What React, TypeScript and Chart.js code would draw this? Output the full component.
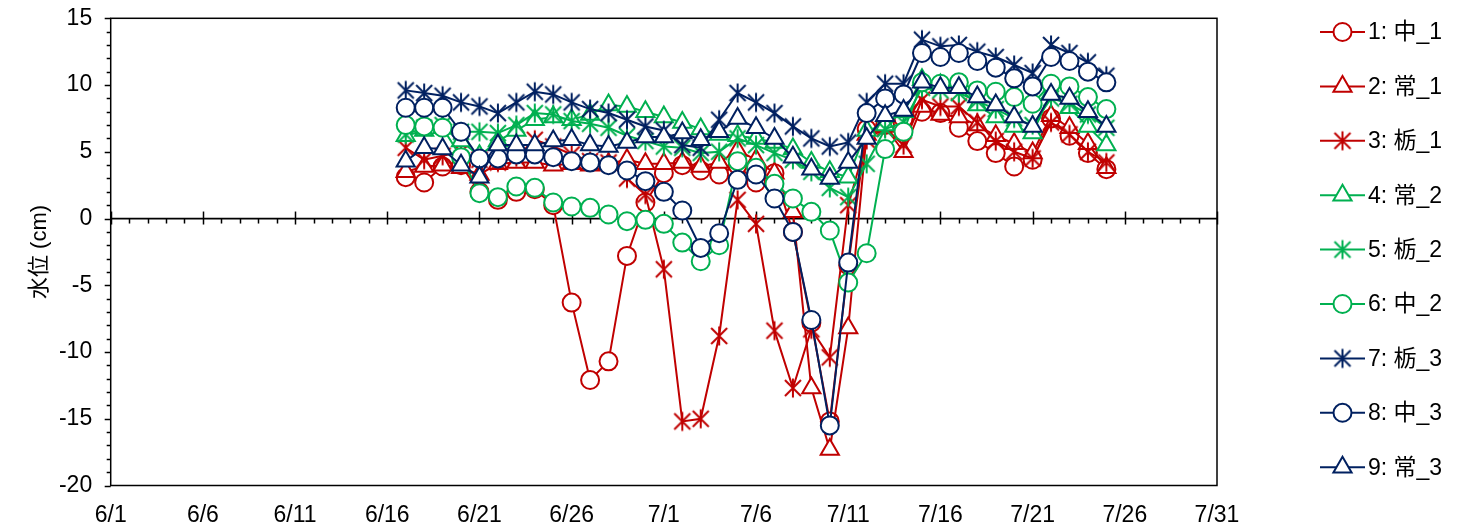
import React, { useEffect, useRef } from "react";
import { Chart, registerables } from "chart.js";
import { drawPoint } from "chart.js/helpers";

Chart.register(...registerables);

// ---------- data ----------
const dates = [
  "6/17", "6/18", "6/19", "6/20", "6/21", "6/22", "6/23", "6/24", "6/25", "6/26",
  "6/27", "6/28", "6/29", "6/30", "7/1", "7/2", "7/3", "7/4", "7/5", "7/6",
  "7/7", "7/8", "7/9", "7/10", "7/11", "7/12", "7/13", "7/14", "7/15", "7/16",
  "7/17", "7/18", "7/19", "7/20", "7/21", "7/22", "7/23", "7/24", "7/25",
];

const xTickLabels = ["6/1", "6/6", "6/11", "6/16", "6/21", "6/26", "7/1", "7/6", "7/11", "7/16", "7/21", "7/26", "7/31"];
const yMin = -20;
const yMax = 15;
const yStep = 5;

const seriesNames = ["1: 中_1", "2: 常_1", "3: 栃_1", "4: 常_2", "5: 栃_2", "6: 中_2", "7: 栃_3", "8: 中_3", "9: 常_3"];

const naka1 = [3.1, 2.7, 3.9, 4.0, 2.0, 1.4, 2.0, 2.2, 1.0, -6.3,
  -12.1, -10.7, -2.8, 1.2, 3.4, 4.0, 3.6, 3.3, 4.0, 2.7,
  3.4, -1.0, -7.8, -15.2, -3.5, 6.7, 7.0, 7.5, 8.0, 7.9,
  6.8, 5.8, 4.9, 3.9, 4.4, 7.5, 6.2, 4.9, 3.7];
const jo1 = [3.5, 3.9, 4.0, 3.8, 3.3, 4.1, 4.2, 4.2, 4.0, 4.1,
  4.0, 4.1, 4.4, 4.1, 4.1, 4.2, 3.9, 4.2, 5.1, 4.4,
  3.4, 0.5, -12.7, -17.3, -8.2, 6.3, 6.9, 5.0, 8.4, 7.8,
  7.6, 7.0, 6.2, 5.6, 4.9, 7.7, 6.8, 5.6, 3.8];
const tochi1 = [5.3, 4.4, 4.7, 5.0, 4.4, 4.2, 4.6, 5.9, 5.4, 4.8,
  4.3, 4.2, 3.0, 1.8, -3.8, -15.2, -15.0, -8.8, 1.4, -0.4,
  -8.4, -12.7, -8.3, -10.4, 1.0, 5.9, 6.8, 5.5, 8.9, 8.4,
  8.4, 7.2, 5.8, 5.0, 4.5, 7.2, 6.3, 5.0, 4.2];
const jo2 = [6.2, 6.6, 6.8, 5.8, 4.7, 5.8, 6.6, 7.4, 7.6, 7.4,
  7.8, 8.5, 8.4, 8.0, 7.6, 7.2, 6.7, 6.3, 6.2, 6.0,
  5.7, 5.2, 4.2, 3.5, 3.1, 6.6, 7.0, 8.0, 10.4, 10.0,
  9.8, 8.5, 7.6, 6.9, 6.4, 9.4, 8.3, 6.9, 5.5];
const tochi2 = [6.3, 6.8, 7.0, 6.5, 6.5, 6.4, 7.0, 7.9, 7.8, 7.3,
  7.1, 6.8, 6.2, 5.8, 5.4, 5.3, 4.9, 5.0, 6.0, 5.5,
  4.9, 4.4, 3.5, 2.3, 1.6, 4.1, 6.7, 7.2, 9.8, 9.6,
  9.4, 8.8, 8.2, 7.5, 7.0, 9.0, 8.6, 7.8, 6.8];
const naka2 = [7.0, 6.9, 6.8, 4.6, 1.9, 1.6, 2.4, 2.3, 1.2, 0.9,
  0.8, 0.3, -0.2, -0.1, -0.4, -1.8, -3.2, -2.0, 4.3, 3.8,
  2.6, 1.5, 0.5, -0.9, -4.8, -2.6, 5.2, 6.5, 10.2, 10.1,
  10.2, 9.6, 9.5, 9.1, 8.6, 10.1, 9.9, 9.1, 8.2];
const tochi3 = [9.6, 9.4, 9.2, 8.7, 8.4, 7.9, 8.7, 9.5, 9.3, 8.7,
  8.2, 7.9, 7.4, 6.9, 6.6, 5.5, 5.3, 7.4, 9.4, 8.7,
  7.9, 6.9, 6.0, 5.4, 5.7, 8.7, 10.1, 10.1, 13.4, 12.9,
  13.0, 12.5, 12.1, 11.5, 10.9, 13.0, 12.4, 11.7, 10.7];
const naka3 = [8.3, 8.3, 8.3, 6.5, 4.5, 4.5, 4.8, 4.8, 4.6, 4.3,
  4.2, 4.0, 3.6, 2.8, 2.0, 0.6, -2.2, -1.1, 2.9, 3.3,
  1.5, -1.0, -7.6, -15.5, -3.3, 7.9, 9.0, 9.3, 12.4, 12.1,
  12.4, 11.8, 11.3, 10.5, 9.9, 12.1, 11.8, 11.0, 10.2];
const jo3 = [4.3, 5.3, 5.2, 4.0, 3.1, 5.5, 5.5, 5.5, 5.8, 5.9,
  5.5, 5.4, 5.7, 6.1, 6.1, 6.4, 5.9, 6.5, 7.5, 6.8,
  6.0, 4.6, 3.7, 3.0, 4.2, 6.0, 7.7, 8.1, 10.2, 9.8,
  9.8, 9.1, 8.5, 7.6, 6.9, 9.3, 9.0, 8.0, 6.9];

const seriesValues = [naka1, jo1, tochi1, jo2, tochi2, naka2, tochi3, naka3, jo3];

// ---------- styles ----------
const RED = "#C00000";
const GREEN = "#00B050";
const NAVY = "#002060";
const seriesColors = [RED, RED, RED, GREEN, GREEN, GREEN, NAVY, NAVY, NAVY];
const seriesMarkers = ["circle", "triangle", "asterisk", "triangle", "asterisk", "circle", "asterisk", "circle", "triangle"];
const FONT = "'Liberation Sans', Arial, 'Noto Sans CJK JP', sans-serif";
const TICK_SIZE = 23;

function dayIndex(label: string): number {
  const [m, d] = label.split("/").map(Number);
  return m === 6 ? d - 1 : 30 + d - 1;
}

function makeAsterisk(color: string): HTMLCanvasElement {
  const c = document.createElement("canvas");
  c.width = 24;
  c.height = 24;
  const g = c.getContext("2d")!;
  g.strokeStyle = color;
  g.lineWidth = 2;
  const cx = 12, cy = 12, r = 9.5, d = 8;
  g.beginPath();
  g.moveTo(cx, cy - r);
  g.lineTo(cx, cy + r);
  g.moveTo(cx - d, cy - d);
  g.lineTo(cx + d, cy + d);
  g.moveTo(cx - d, cy + d);
  g.lineTo(cx + d, cy - d);
  g.stroke();
  return c;
}

function markerOpts(kind: string, color: string) {
  if (kind === "asterisk") return { pointStyle: makeAsterisk(color), radius: 10, borderWidth: 0 };
  if (kind === "triangle") return { pointStyle: "triangle", radius: 10.5, borderWidth: 2 };
  return { pointStyle: "circle", radius: 9, borderWidth: 2 };
}

const framePlugin = {
  id: "frameAxes",
  beforeDatasetsDraw(chart: any) {
    const { ctx, chartArea: a, scales } = chart;
    const xs = scales.x, ys = scales.y;
    ctx.save();
    ctx.strokeStyle = "#000";
    ctx.lineWidth = 1.5;
    ctx.strokeRect(a.left, a.top, a.right - a.left, a.bottom - a.top);
    // y ticks
    for (let v = yMin; v <= yMax; v++) {
      const y = Math.round(ys.getPixelForValue(v)) + 0.5;
      const len = v % yStep === 0 ? 6 : 4;
      ctx.beginPath();
      ctx.moveTo(a.left - len, y);
      ctx.lineTo(a.left, y);
      ctx.stroke();
    }
    // x axis at 0
    const y0 = ys.getPixelForValue(0);
    ctx.lineWidth = 1.8;
    ctx.beginPath();
    ctx.moveTo(a.left, y0);
    ctx.lineTo(a.right, y0);
    ctx.stroke();
    ctx.lineWidth = 1.5;
    for (let d = 0; d <= 60; d++) {
      const x = Math.round(xs.getPixelForValue(d)) + 0.5;
      ctx.beginPath();
      if (d % 5 === 0) {
        ctx.moveTo(x, y0 - 7);
        ctx.lineTo(x, y0 + 6);
      } else {
        ctx.moveTo(x, y0);
        ctx.lineTo(x, y0 + 5);
      }
      ctx.stroke();
    }
    // y axis title
    ctx.fillStyle = "#000";
    ctx.font = `22px ${FONT}`;
    ctx.textAlign = "center";
    ctx.textBaseline = "middle";
    ctx.translate(40, 252);
    ctx.rotate(-Math.PI / 2);
    ctx.fillText("水位 (cm)", 0, 0);
    ctx.restore();
  },
};

const legendPlugin = {
  id: "customLegend",
  afterDraw(chart: any) {
    const ctx = chart.ctx;
    chart.data.datasets.forEach((ds: any, i: number) => {
      const y = 32 + i * 54.4;
      ctx.save();
      ctx.strokeStyle = ds.borderColor;
      ctx.lineWidth = 2;
      ctx.beginPath();
      ctx.moveTo(1320, y);
      ctx.lineTo(1365, y);
      ctx.stroke();
      ctx.fillStyle = "#fff";
      ctx.strokeStyle = ds.borderColor;
      ctx.lineWidth = ds.pointBorderWidth || 2;
      drawPoint(ctx, { pointStyle: ds.pointStyle, radius: ds.pointRadius, borderWidth: ds.pointBorderWidth, rotation: 0 } as any, 1342.5, y);
      ctx.fillStyle = "#000";
      ctx.font = `${TICK_SIZE}px ${FONT}`;
      ctx.textAlign = "left";
      ctx.textBaseline = "middle";
      ctx.fillText(ds.label, 1368, y + 1);
      ctx.restore();
    });
  },
};

export default function App() {
  const ref = useRef<HTMLCanvasElement | null>(null);

  useEffect(() => {
    document.body.style.margin = "0";
    const canvas = ref.current;
    if (!canvas) return;

    const datasets = seriesValues.map((vals, i) => {
      const m = markerOpts(seriesMarkers[i], seriesColors[i]);
      return {
        label: seriesNames[i],
        data: dates.map((lab, k) => ({ x: dayIndex(lab), y: vals[k] })),
        borderColor: seriesColors[i],
        backgroundColor: "#fff",
        borderWidth: 2,
        tension: 0,
        pointStyle: m.pointStyle as any,
        pointRadius: m.radius,
        pointBorderWidth: m.borderWidth,
        pointBackgroundColor: "#fff",
        pointBorderColor: seriesColors[i],
        order: seriesValues.length - 1 - i,
        clip: false as any,
      };
    });

    const chart = new Chart(canvas, {
      type: "line",
      data: { datasets },
      options: {
        animation: false,
        responsive: false,
        devicePixelRatio: 1,
        events: [],
        layout: { padding: { top: 5, right: 253, bottom: 0, left: 0 } },
        plugins: { legend: { display: false }, tooltip: { enabled: false } },
        scales: {
          x: {
            type: "linear",
            min: 0,
            max: 60,
            grid: { display: false, drawTicks: false },
            border: { display: false },
            ticks: {
              stepSize: 5,
              autoSkip: false,
              maxRotation: 0,
              padding: 16,
              color: "#000",
              font: { family: FONT, size: TICK_SIZE },
              callback: (v: any) => {
                const idx = Number(v) / 5;
                return Number.isInteger(idx) ? xTickLabels[idx] : "";
              },
            },
            afterFit: (s: any) => {
              s.height = 41.5;
            },
          },
          y: {
            min: yMin,
            max: yMax,
            grid: {
              display: true,
              drawOnChartArea: false,
              drawTicks: true,
              tickLength: 14,
              tickColor: "rgba(0,0,0,0)",
              color: "rgba(0,0,0,0)",
            },
            border: { display: false },
            ticks: {
              stepSize: yStep,
              padding: 4.5,
              color: "#000",
              font: { family: FONT, size: TICK_SIZE },
            },
            afterFit: (s: any) => {
              s.width = 110.7;
            },
          },
        },
      },
      plugins: [framePlugin, legendPlugin],
    });
    return () => chart.destroy();
  }, []);

  return (
    <div style={{ position: "absolute", left: 0, top: 0, width: 1470, height: 527, background: "#fff" }}>
      <canvas ref={ref} width={1470} height={527} style={{ display: "block" }} />
    </div>
  );
}
